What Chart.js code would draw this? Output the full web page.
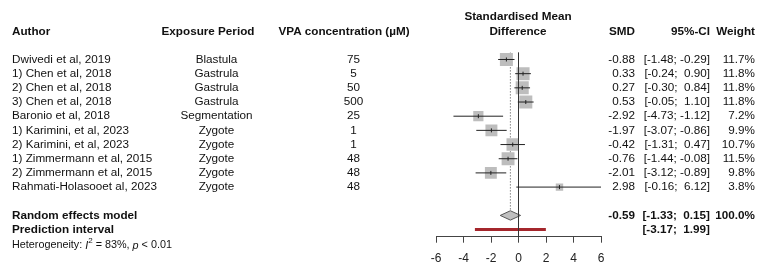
<!DOCTYPE html>
<html>
<head>
<meta charset="utf-8">
<script src="https://cdn.jsdelivr.net/npm/chart.js@4.4.0/dist/chart.umd.min.js"></script>
<style>
  html, body { margin: 0; padding: 0; background: #fff; }
  #wrap { width: 763px; height: 274px; }
</style>
</head>
<body>
<div id="wrap"><canvas id="forest" width="763" height="274"></canvas></div>
<script>
// Study data
const authors = [
  'Dwivedi et al, 2019', '1) Chen et al, 2018', '2) Chen et al, 2018', '3) Chen et al, 2018',
  'Baronio et al, 2018', '1) Karimini, et al, 2023', '2) Karimini, et al, 2023',
  '1) Zimmermann et al, 2015', '2) Zimmermann et al, 2015', 'Rahmati-Holasooet al, 2023'
];
const periods = ['Blastula', 'Gastrula', 'Gastrula', 'Gastrula', 'Segmentation',
  'Zygote', 'Zygote', 'Zygote', 'Zygote', 'Zygote'];
const concentrations = [75, 5, 50, 500, 25, 1, 1, 48, 48, 48];
const smd = [-0.88, 0.33, 0.27, 0.53, -2.92, -1.97, -0.42, -0.76, -2.01, 2.98];
const ciLower = [-1.48, -0.24, -0.30, -0.05, -4.73, -3.07, -1.31, -1.44, -3.12, -0.16];
const ciUpper = [-0.29, 0.90, 0.84, 1.10, -1.12, -0.86, 0.47, -0.08, -0.89, 6.12];
const weights = [11.7, 11.8, 11.8, 11.8, 7.2, 9.9, 10.7, 11.5, 9.8, 3.8];

// Random effects model: estimate, lower, upper
const randomEffects = [-0.59, -1.33, 0.15];
const predInterval = [-3.17, 1.99];
const xTicks = [-6, -4, -2, 0, 2, 4, 6];

const REM_ROW = 11;
const PRED_ROW = 12;
const FONT = '"Liberation Sans", Arial, sans-serif';

const fmt = v => v.toFixed(2).padStart(5, ' ');
const ciText = (lo, hi) => `[${fmt(lo)}; ${fmt(hi)}]`;

// CI line for each study
const ciSets = smd.map((v, i) => ({
  type: 'line',
  data: [{ x: ciLower[i], y: i }, { x: ciUpper[i], y: i }],
  borderColor: '#222',
  borderWidth: 1,
  pointRadius: 0,
  order: 1
}));

const dH = 0.33;
const datasets = [
  ...ciSets,
  { // point estimate tick
    type: 'scatter',
    data: smd.map((v, i) => ({ x: v, y: i })),
    pointStyle: 'line',
    rotation: 90,
    pointRadius: 2,
    borderColor: '#222',
    borderWidth: 1,
    order: 0
  },
  { // zero line
    type: 'line',
    data: [{ x: 0, y: -0.5 }, { x: 0, y: 12.5 }],
    borderColor: '#333',
    borderWidth: 1,
    pointRadius: 0,
    order: 1
  },
  { // squares
    type: 'scatter',
    data: smd.map((v, i) => ({ x: v, y: i })),
    pointStyle: 'rect',
    pointRadius: c => Math.sqrt(weights[c.dataIndex]) * 3.8 / (2 * Math.SQRT1_2),
    backgroundColor: '#bdbdbd',
    borderWidth: 0,
    order: 2
  },
  { // diamond
    type: 'line',
    data: [
      { x: randomEffects[1], y: REM_ROW },
      { x: randomEffects[0], y: REM_ROW - dH },
      { x: randomEffects[2], y: REM_ROW },
      { x: randomEffects[0], y: REM_ROW + dH },
      { x: randomEffects[1], y: REM_ROW }
    ],
    borderColor: '#555',
    borderWidth: 1,
    backgroundColor: '#c0c0c0',
    fill: 'shape',
    pointRadius: 0,
    order: 2
  },
  { // prediction interval
    type: 'line',
    data: [{ x: predInterval[0], y: PRED_ROW }, { x: predInterval[1], y: PRED_ROW }],
    borderColor: '#a4262c',
    borderWidth: 3,
    pointRadius: 0,
    order: 2
  },
  { // random effects dotted line
    type: 'line',
    data: [{ x: randomEffects[0], y: -0.5 }, { x: randomEffects[0], y: REM_ROW - dH }],
    borderColor: '#444',
    borderWidth: 1,
    borderDash: [1, 2],
    pointRadius: 0,
    order: 3
  }
];

// Text columns
const textPlugin = {
  id: 'forestText',
  afterDraw(chart) {
    const ctx = chart.ctx;
    const ys = chart.scales.y;
    ctx.save();
    ctx.fillStyle = '#111';
    ctx.textBaseline = 'middle';

    const put = (t, x, y, align, bold) => {
      ctx.font = (bold ? 'bold ' : '') + '11.7px ' + FONT;
      ctx.textAlign = align;
      ctx.fillText(t, x, y);
    };

    // headers
    put('Author', 12, 32, 'left', true);
    put('Exposure Period', 208, 32, 'center', true);
    put('VPA concentration (\u00b5M)', 344, 32, 'center', true);
    put('Standardised Mean', 518, 17, 'center', true);
    put('Difference', 518, 32, 'center', true);
    put('SMD', 635, 32, 'right', true);
    put('95%-CI', 710, 32, 'right', true);
    put('Weight', 755, 32, 'right', true);

    authors.forEach((a, i) => {
      const y = ys.getPixelForValue(i);
      put(a, 12, y, 'left');
      put(periods[i], 216.5, y, 'center');
      put(String(concentrations[i]), 353.5, y, 'center');
      put(smd[i].toFixed(2), 635, y, 'right');
      put(ciText(ciLower[i], ciUpper[i]), 710, y, 'right');
      put(weights[i].toFixed(1) + '%', 755, y, 'right');
    });

    const yr = ys.getPixelForValue(REM_ROW);
    put('Random effects model', 12, yr, 'left', true);
    put(randomEffects[0].toFixed(2), 635, yr, 'right', true);
    put(ciText(randomEffects[1], randomEffects[2]), 710, yr, 'right', true);
    put('100.0%', 755, yr, 'right', true);

    const yp = ys.getPixelForValue(PRED_ROW);
    put('Prediction interval', 12, yp, 'left', true);
    put(ciText(predInterval[0], predInterval[1]), 710, yp, 'right', true);

    // heterogeneity with italic I, superscript 2, italic p
    const hy = 245.5;
    let x = 12;
    ctx.textAlign = 'left';
    const seg = (t, font, dy) => {
      ctx.font = font;
      ctx.fillText(t, x, hy + (dy || 0));
      x += ctx.measureText(t).width;
    };
    seg('Heterogeneity: ', '10.8px ' + FONT);
    seg('I', 'italic 10.8px ' + FONT);
    seg('2', '8px ' + FONT, -5);
    seg(' = 83%, ', '10.8px ' + FONT);
    seg('p', 'italic 10.8px ' + FONT);
    seg(' < 0.01', '10.8px ' + FONT);
    ctx.restore();
  }
};

new Chart(document.getElementById('forest'), {
  type: 'scatter',
  data: { datasets },
  options: {
    responsive: false,
    devicePixelRatio: 1,
    animation: false,
    events: [],
    layout: { padding: { left: 436, right: 162, top: 52.4, bottom: 0 } },
    plugins: { legend: { display: false }, tooltip: { enabled: false } },
    scales: {
      x: {
        type: 'linear',
        min: -6,
        max: 6,
        afterBuildTicks: s => { s.ticks = xTicks.map(v => ({ value: v })); },
        afterFit: s => { s.height = 37.3; },
        ticks: { color: '#222', padding: 9, font: { family: FONT, size: 12 }, maxRotation: 0 },
        grid: { drawOnChartArea: false, drawTicks: true, tickLength: 6, color: '#444' },
        border: { display: true, color: '#444' }
      },
      y: {
        type: 'linear',
        display: false,
        min: -0.5,
        max: 12.5,
        reverse: true
      }
    }
  },
  plugins: [textPlugin]
});
</script>
</body>
</html>
